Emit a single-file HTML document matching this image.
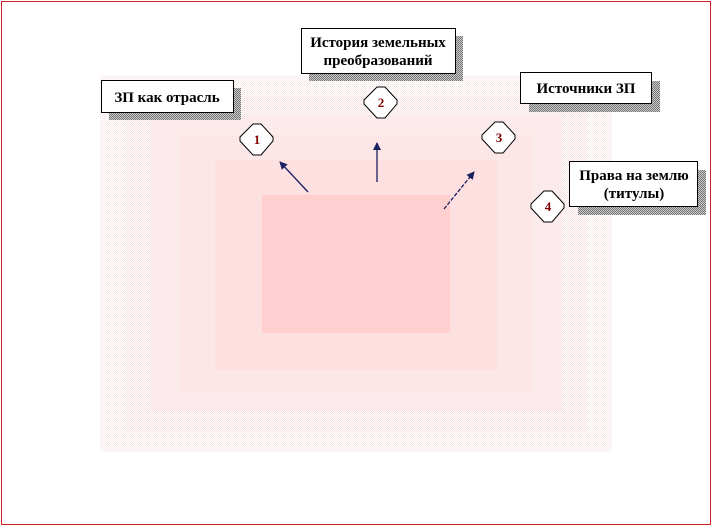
<!DOCTYPE html>
<html><head><meta charset="utf-8"><style>
html,body{margin:0;padding:0;background:#fff;}
svg{display:block;}
text{font-family:"Liberation Serif",serif;font-weight:bold;}
</style></head><body>
<svg width="713" height="527" viewBox="0 0 713 527" xmlns="http://www.w3.org/2000/svg">
<defs>
<pattern id="dots" width="2" height="2" patternUnits="userSpaceOnUse"><rect width="1" height="1" fill="#e9b9b9"/><rect x="1" y="1" width="1" height="1" fill="#f3d6d6"/></pattern>
<pattern id="sh" width="2" height="2" patternUnits="userSpaceOnUse"><rect width="2" height="2" fill="#c8c8c8"/><rect width="1" height="1" fill="#777"/><rect x="1" y="1" width="1" height="1" fill="#777"/></pattern>
<marker id="ah" markerWidth="8" markerHeight="8" refX="7" refY="4" orient="auto" markerUnits="userSpaceOnUse"><path d="M0,0 L8,4 L0,8 Z" fill="#1a2060"/></marker>
</defs>
<rect x="1.5" y="1.5" width="709" height="523" fill="#fff" stroke="#d02020" stroke-width="1"/>
<rect x="100" y="75" width="512" height="377" fill="url(#dots)" opacity="0.35"/>
<rect x="125" y="95" width="462" height="337" fill="#fcc" opacity="0.12"/>
<rect x="150" y="115" width="412" height="297" fill="#fcc" opacity="0.14"/>
<rect x="180" y="135" width="352" height="257" fill="#fcc" opacity="0.16"/>
<rect x="215" y="160" width="282" height="210" fill="#fcc" opacity="0.2"/>
<rect x="262" y="195" width="188" height="138" fill="#fcc" opacity="0.85"/>

<rect x="109" y="88" width="132" height="32" fill="url(#sh)"/>
<rect x="101.5" y="80.5" width="132" height="32" fill="#fff" stroke="#000"/>
<text x="167" y="102" font-size="15" text-anchor="middle">ЗП как отрасль</text>

<rect x="309" y="36" width="154" height="45" fill="url(#sh)"/>
<rect x="301.5" y="28.5" width="154" height="45" fill="#fff" stroke="#000"/>
<text x="378" y="47" font-size="15" text-anchor="middle">История земельных</text>
<text x="378" y="65" font-size="15" text-anchor="middle">преобразований</text>

<rect x="529" y="81" width="131" height="31" fill="url(#sh)"/>
<rect x="520.5" y="72.5" width="131" height="31" fill="#fff" stroke="#000"/>
<text x="586" y="93" font-size="15" text-anchor="middle">Источники ЗП</text>

<rect x="578" y="170" width="128" height="45" fill="url(#sh)"/>
<rect x="569.5" y="161.5" width="128" height="45" fill="#fff" stroke="#000"/>
<text x="634" y="180" font-size="15" text-anchor="middle">Права на землю</text>
<text x="634" y="198" font-size="15" text-anchor="middle">(титулы)</text>

<g stroke="#000" fill="#fff">
<path d="M253,124 L261,124 L273,137 L273,141 L261,155 L253,155 L240,141 L240,137 Z"/>
<path d="M377,87 L385,87 L397,100 L397,104 L385,118 L377,118 L364,104 L364,100 Z"/>
<path d="M495,122 L503,122 L515,135 L515,139 L503,153 L495,153 L482,139 L482,135 Z"/>
<path d="M544,191 L552,191 L564,204 L564,208 L552,222 L544,222 L531,208 L531,204 Z"/>
</g>
<g fill="#800000" font-size="13" text-anchor="middle">
<text x="257" y="144">1</text><text x="381" y="107">2</text><text x="499" y="142">3</text><text x="548" y="211">4</text>
</g>

<g stroke="#1a2060" stroke-width="1.3" fill="none">
<line x1="308" y1="192" x2="280" y2="162" marker-end="url(#ah)"/>
<line x1="377" y1="182" x2="377" y2="143" marker-end="url(#ah)"/>
<line x1="444" y1="209" x2="474" y2="172" stroke-dasharray="4,1.5" marker-end="url(#ah)"/>
</g>
</svg>
</body></html>
